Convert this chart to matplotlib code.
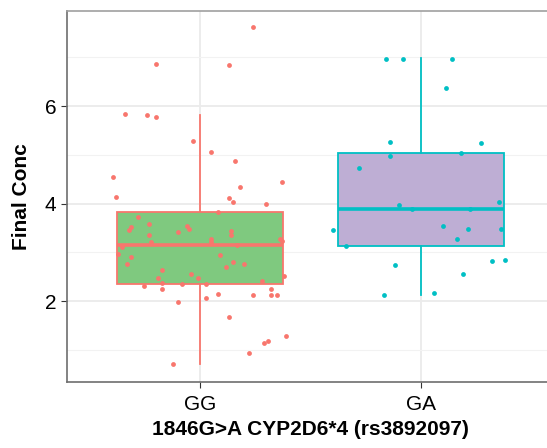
import numpy as np
import matplotlib
matplotlib.use("Agg")
import matplotlib.pyplot as plt

plt.rcParams['font.family'] = ['Liberation Sans', 'DejaVu Sans']

categories = ["GG", "GA"]

# box statistics
q1 = [2.36, 3.12]
med = [3.16, 3.89]
q3 = [3.82, 5.03]
whislo = [0.70, 2.12]
whishi = [5.82, 6.98]

# jittered points: x = category position + jitter, y = Final Conc
gg_jit = [0.24, -0.20, 0.13, -0.34, -0.24, -0.20, -0.03, 0.05, 0.16, -0.39,
          0.37, 0.18, -0.38, 0.13, 0.15, 0.30, 0.08, -0.28, -0.23, -0.31,
          -0.32, -0.06, -0.05, -0.10, -0.23, 0.14, 0.14, 0.05, 0.05, -0.22,
          0.36, 0.37, 0.17, -0.35, -0.37, -0.31, 0.09, 0.15, -0.33, 0.12,
          0.20, -0.17, -0.19, -0.04, -0.01, 0.38, -0.17, -0.08, 0.03, 0.28,
          -0.25, -0.17, 0.32, 0.24, 0.32, 0.35, 0.03, 0.08, -0.10, 0.13,
          0.39, 0.31, 0.29, 0.22, -0.12]
gg_val = [7.62, 6.86, 6.85, 5.83, 5.81, 5.78, 5.29, 5.05, 4.88, 4.55,
          4.44, 4.33, 4.13, 4.12, 4.03, 3.99, 3.82, 3.72, 3.58, 3.52,
          3.45, 3.55, 3.48, 3.41, 3.35, 3.44, 3.35, 3.28, 3.21, 3.22,
          3.27, 3.23, 3.16, 3.10, 2.97, 2.91, 2.95, 2.81, 2.76, 2.69,
          2.76, 2.64, 2.48, 2.55, 2.47, 2.52, 2.38, 2.36, 2.35, 2.41,
          2.30, 2.24, 2.24, 2.12, 2.13, 2.13, 2.07, 2.15, 1.99, 1.68,
          1.28, 1.19, 1.14, 0.93, 0.70]
ga_jit = [-0.16, -0.08, 0.14, 0.11, -0.14, 0.27, -0.14, 0.18, -0.28,
          -0.10, -0.04, 0.22, 0.35, -0.40, 0.10, 0.21, 0.36, 0.16, -0.34,
          -0.12, 0.32, 0.38, 0.19, -0.17, 0.06]
ga_val = [6.96, 6.97, 6.97, 6.37, 5.26, 5.24, 4.97, 5.04, 4.72,
          3.98, 3.89, 3.89, 4.03, 3.46, 3.55, 3.47, 3.48, 3.27, 3.12,
          2.74, 2.82, 2.85, 2.56, 2.13, 2.16]

line_cols = ["#F8766D", "#00BFC4"]
fill_cols = ["#7FC97F", "#BEAED4"]

fig = plt.figure(figsize=(5.47, 4.48), dpi=100)
ax = fig.add_axes([67 / 547, 66 / 448, 487 / 547, 371 / 448])

ax.set_xlim(0.4, 2.6)
ax.set_ylim(0.34, 7.95)

ax.set_yticks([2, 4, 6])
ax.set_yticks([1, 3, 5, 7], minor=True)
ax.set_xticks([1, 2])
ax.set_xticklabels(categories)
ax.grid(True, which='major', color='#EBEBEB', linewidth=1.3, zorder=0)
ax.grid(True, which='minor', axis='y', color='#F2F2F2', linewidth=0.8, zorder=0)
ax.set_axisbelow(True)

for i in range(2):
    stats = [{"q1": q1[i], "med": med[i], "q3": q3[i],
              "whislo": whislo[i], "whishi": whishi[i], "fliers": []}]
    ax.bxp(stats, positions=[i + 1], widths=0.75, patch_artist=True,
           showcaps=False,
           boxprops=dict(facecolor=fill_cols[i], edgecolor=line_cols[i], linewidth=1.3),
           medianprops=dict(color=line_cols[i], linewidth=2.6),
           whiskerprops=dict(color=line_cols[i], linewidth=1.3),
           manage_ticks=False, zorder=2)

ax.scatter(1 + np.array(gg_jit), gg_val, s=12, color=line_cols[0], zorder=3, linewidths=0)
ax.scatter(2 + np.array(ga_jit), ga_val, s=12, color=line_cols[1], zorder=3, linewidths=0)

for s in ["left", "bottom"]:
    ax.spines[s].set_color('#6e6e6e')
    ax.spines[s].set_linewidth(1.2)
ax.spines["top"].set_color('#a0a0a0')
ax.spines["top"].set_linewidth(1.2)
ax.spines["right"].set_visible(False)

ax.tick_params(axis='both', which='major', labelsize=15, length=4, color='#333333',
               labelcolor='black')
ax.tick_params(axis='x', which='major', pad=5)
ax.tick_params(axis='y', which='minor', length=0)

ax.set_ylabel("Final Conc", fontsize=15, fontweight='bold', labelpad=10)
ax.set_xlabel("1846G>A CYP2D6*4 (rs3892097)", fontsize=15, fontweight='bold', labelpad=5)

fig.savefig("out.png", dpi=100)
